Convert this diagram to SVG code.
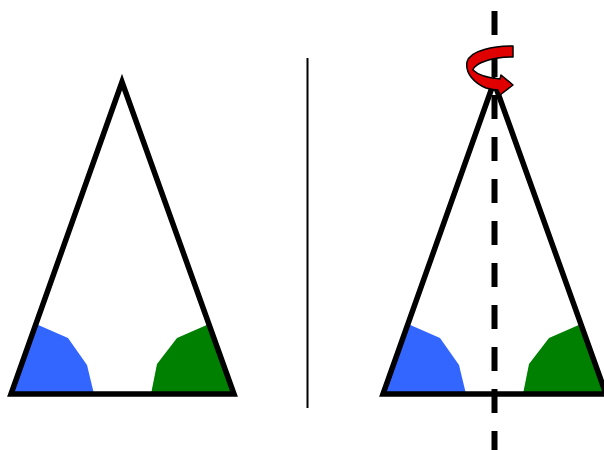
<svg xmlns="http://www.w3.org/2000/svg" width="604" height="450" viewBox="0 0 604 450">
<style>
.tri{fill:none;stroke:#000;stroke-width:5.5;stroke-miterlimit:10}
.blue{fill:#3366ff}
.green{fill:#008000}
</style>
<rect width="604" height="450" fill="#fff"/>
<g id="left-triangle">
<polygon class="blue" points="11,394 36,324 68,338 87,365 94,394"/>
<polygon class="green" points="234,394 209,324 177,338 157,364 151,394"/>
<polygon class="tri" points="122,82 11,394 234,394"/>
</g>
<g id="divider">
<line x1="307.5" y1="58" x2="307.5" y2="408" stroke="#000" stroke-width="2"/>
</g>
<g id="right-triangle">
<polygon class="blue" points="383,394 408,324 440,338 459,365 466,394"/>
<polygon class="green" points="606,394 581,324 549,338 529,364 523,394"/>
<polygon class="tri" points="494,82 383,394 606,394"/>
</g>
<g id="connectors">
<line x1="494.5" y1="11" x2="494.5" y2="450" stroke="#000" stroke-width="6" stroke-dasharray="24 18"/>
</g>
<g id="rotation-arrow">
<path d="M513,46 C495,46 470,50 467,62 C465,73 474,83 486,88 C490,89 494,90 498,90 L500,95 L513,85 L501,75 L500,79 C489,78 479,76 473,70 C475,62 495,57 513,57 Z" fill="#e00000" stroke="#000" stroke-width="1.5" stroke-linejoin="round"/>
</g>
</svg>
